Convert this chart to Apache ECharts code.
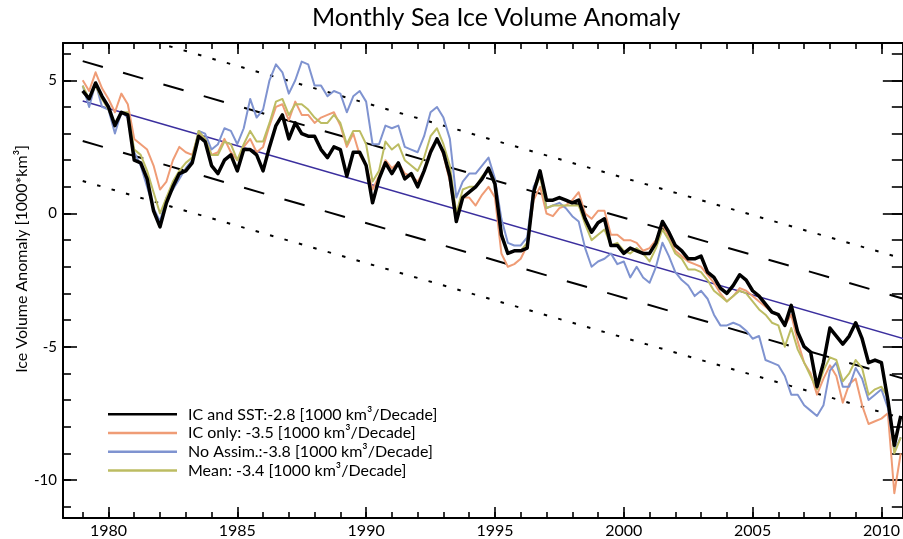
<!DOCTYPE html>
<html><head><meta charset="utf-8">
<script src="https://cdn.jsdelivr.net/npm/echarts@6/dist/echarts.min.js"></script>
<style>html,body{margin:0;padding:0;background:#fff}#c{width:903px;height:539px}</style>
</head><body><div id="c"></div>
<script>
// ---- data (quarterly samples) ----
const startYear = 1979, stepYears = 0.25;
const icAndSst = [
 4.6,4.3,4.9,4.4, 4.0,3.3,3.8,3.7, 2.0,1.9,1.3,0.1, -0.5,0.4,1.0,1.5,
 1.6,1.9,2.9,2.7, 1.8,1.5,2.0,2.2, 1.6,2.4,2.4,2.2, 1.6,2.5,3.3,3.7,
 2.8,3.4,3.0,2.9, 2.9,2.4,2.1,2.5, 2.4,1.4,2.3,2.3, 1.8,0.4,1.3,1.9,
 1.5,1.9,1.3,1.5, 1.0,1.6,2.3,2.8, 2.3,1.4,-0.3,0.6, 0.8,1.0,1.3,1.7,
 1.1,-0.8,-1.5,-1.4, -1.4,-1.3,0.8,1.6, 0.5,0.5,0.6,0.5, 0.4,0.5,-0.2,-0.7,
 -0.35,-0.2,-1.2,-1.2, -1.5,-1.3,-1.4,-1.5, -1.5,-1.1,-0.3,-0.7, -1.2,-1.4,-1.7,-1.7,
 -1.6,-2.2,-2.4,-2.8, -3.0,-2.7,-2.3,-2.5, -2.9,-3.1,-3.4,-3.7, -3.8,-4.2,-3.45,-4.45,
 -5.0,-5.2,-6.5,-5.6, -4.3,-4.6,-4.9,-4.6, -4.1,-4.7,-5.6,-5.5, -5.6,-7.0,-8.7,-7.6
];
const icOnly = [
 5.0,4.6,5.3,4.7, 4.3,3.8,4.5,4.1, 2.8,2.6,2.4,1.8, 0.9,1.2,2.0,2.5,
 2.3,2.2,3.0,2.8, 2.2,2.3,2.8,2.3, 2.0,2.5,2.8,2.3, 2.5,3.3,4.0,4.1,
 3.5,4.2,3.7,3.7, 3.4,3.6,3.7,3.8, 3.3,2.5,3.0,2.2, 1.8,0.9,1.4,2.0,
 1.7,1.9,1.5,1.4, 1.2,1.6,2.4,2.8, 2.2,1.2,-0.3,0.6, 0.6,0.3,0.7,1.0,
 0.6,-1.5,-2.0,-1.9, -1.7,-1.2,0.5,1.0, 0.0,-0.1,0.2,0.3, 0.5,0.8,0.0,-0.2,
 0.1,0.1,-0.8,-0.8, -1.0,-1.0,-1.1,-1.4, -1.3,-1.0,-0.4,-0.9, -1.4,-1.6,-1.8,-1.9,
 -2.0,-2.3,-2.6,-3.0, -3.3,-3.1,-2.8,-2.9, -3.1,-3.3,-3.5,-3.7, -3.8,-4.2,-3.8,-4.8,
 -5.6,-6.0,-6.8,-6.2, -5.7,-6.1,-7.1,-6.4, -6.2,-7.2,-7.9,-7.8, -7.7,-7.5,-10.5,-9.0
];
const noAssim = [
 4.8,4.0,4.9,4.0, 3.9,3.0,3.8,3.6, 2.3,1.8,1.0,0.2, -0.3,0.6,0.9,1.3,
 1.7,2.0,3.1,3.0, 2.4,2.6,3.2,3.1, 2.6,3.2,4.3,3.6, 3.9,5.0,5.6,5.3,
 4.5,5.0,5.7,5.6, 4.8,4.8,4.4,4.6, 4.5,3.8,4.4,4.6, 4.2,2.6,2.6,3.3,
 3.2,3.3,2.5,2.4, 2.3,2.9,3.8,4.0, 3.6,2.8,0.6,1.2, 1.5,1.5,1.8,2.1,
 1.3,-0.2,-1.1,-1.2, -1.2,-0.9,1.0,1.5, 0.2,0.3,0.4,0.2, -0.1,-0.3,-1.3,-2.0,
 -1.8,-1.7,-1.5,-1.9, -1.8,-2.4,-2.0,-2.4, -2.6,-2.0,-1.1,-1.6, -2.2,-2.5,-2.7,-3.1,
 -2.9,-3.2,-3.8,-4.2, -4.2,-4.1,-4.2,-4.4, -4.7,-4.6,-5.5,-5.6, -5.7,-6.1,-6.8,-6.8,
 -7.2,-7.4,-7.6,-7.2, -5.9,-5.6,-6.5,-6.5, -5.8,-6.2,-7.0,-6.8, -6.6,-7.3,-8.9,-8.4
];
const meanSeries = [
 4.8,4.3,4.8,4.3, 3.9,3.4,3.8,3.8, 2.4,2.2,1.6,0.8, 0.0,0.6,1.2,1.6,
 1.9,2.1,3.1,2.8, 2.2,2.2,2.7,2.6, 2.0,2.6,3.1,2.7, 2.7,3.4,4.2,4.3,
 3.7,4.1,4.1,3.9, 3.6,3.4,3.4,3.7, 3.4,2.6,3.1,3.1, 2.6,1.2,1.6,2.7,
 2.4,2.6,2.0,1.8, 1.6,2.1,2.9,3.2, 2.6,1.8,0.0,0.9, 1.0,1.0,1.4,1.6,
 1.2,-0.7,-1.5,-1.4, -1.4,-1.1,0.8,1.4, 0.2,0.3,0.3,0.3, 0.3,0.3,-0.4,-1.0,
 -0.8,-0.6,-1.2,-1.1, -1.4,-1.5,-1.3,-1.5, -1.8,-1.3,-0.6,-1.0, -1.5,-1.7,-2.1,-2.1,
 -2.2,-2.5,-2.9,-3.1, -3.3,-3.1,-2.9,-3.0, -3.3,-3.6,-3.8,-4.1, -4.2,-5.0,-4.3,-5.1,
 -5.6,-6.1,-6.6,-5.9, -5.4,-5.5,-6.3,-6.0, -5.5,-5.8,-6.8,-6.6, -6.5,-6.9,-9.0,-8.4
];
// trend of "IC and SST" with +-1 and +-2 sigma bands
const trendStartYear = 1979, trendEndYear = 2010.92;
const trendValueAtStart = 4.22, trendPerDecade = -2.8, trendSigma = 1.5;
// axis ticks
const xMajorTicks = [1980,1985,1990,1995,2000,2005,2010];
const xMinorTicks = [1979,1980,1981,1982,1983,1984,1985,1986,1987,1988,1989,1990,1991,1992,1993,1994,1995,1996,1997,1998,1999,2000,2001,2002,2003,2004,2005,2006,2007,2008,2009,2010];
const yMajorTicks = [-10,-5,0,5];
const yMinorTicks = [-11,-10,-9,-8,-7,-6,-5,-4,-3,-2,-1,0,1,2,3,4,5,6];
const seriesNames = [
  'IC and SST:-2.8 [1000 km³/Decade]',
  'IC only: -3.5 [1000 km³/Decade]',
  'No Assim.:-3.8 [1000 km³/Decade]',
  'Mean: -3.4 [1000 km³/Decade]'
];

// ---- build ----
const toPairs = arr => arr.map((v, i) => [startYear + i * stepYears, v]);
const trendAt = (yr, k) => trendValueAtStart + trendPerDecade / 10 * (yr - trendStartYear) + k * trendSigma;
const trendPairs = k => [[trendStartYear, trendAt(trendStartYear, k)], [trendEndYear, trendAt(trendEndYear, k)]];

const FONT = 'Lato';
const black = '#000';
const X_MIN = 1978.235, X_MAX = 2010.83, Y_MIN = -11.43, Y_MAX = 6.40;

function xAx(pos, len, ticks, labels, line) {
  return {
    type: 'value', position: pos, min: X_MIN, max: X_MAX,
    axisLine: { show: line, onZero: false, lineStyle: { color: black, width: 2 } },
    axisTick: { show: true, inside: true, length: len, customValues: ticks, lineStyle: { color: black, width: 1.6 } },
    axisLabel: labels ? { show: true, customValues: ticks, margin: 5, color: black, fontFamily: FONT, fontSize: 16,
      formatter: v => String(Math.round(v)) } : { show: false },
    splitLine: { show: false }
  };
}
function yAx(pos, len, ticks, labels, line) {
  return {
    type: 'value', position: pos, min: Y_MIN, max: Y_MAX,
    axisLine: { show: line, onZero: false, lineStyle: { color: black, width: 2 } },
    axisTick: { show: true, inside: true, length: len, customValues: ticks, lineStyle: { color: black, width: 1.6 } },
    axisLabel: labels ? { show: true, customValues: ticks, margin: 6, color: black, fontFamily: FONT, fontSize: 15,
      formatter: v => String(Math.round(v)) } : { show: false },
    splitLine: { show: false }
  };
}

const dataLine = (name, arr, color, width, z) => ({
  name, type: 'line', data: toPairs(arr), xAxisIndex: 0, yAxisIndex: 0,
  symbol: 'none', showSymbol: false, smooth: false, z,
  lineStyle: { color, width, join: 'round' }, itemStyle: { color }, emphasis: { disabled: true }
});
const trendLine = (k, type, width, color, z) => ({
  type: 'line', data: trendPairs(k), xAxisIndex: 0, yAxisIndex: 0, symbol: 'none', silent: true, z,
  lineStyle: { color, width, type }, emphasis: { disabled: true }
});

const chart = echarts.init(document.getElementById('c'), null, { renderer: 'canvas' });
chart.setOption({
  animation: false,
  backgroundColor: '#fff',
  title: {
    text: 'Monthly Sea Ice Volume Anomaly', left: 312, top: 5, padding: 0,
    textStyle: { fontFamily: FONT, fontSize: 25, fontWeight: 'normal', color: black }
  },
  grid: { left: 63, top: 43, width: 842, height: 476, containLabel: false },
  xAxis: [
    xAx('bottom', 11, xMajorTicks, true, true),
    xAx('bottom', 6, xMinorTicks, false, false),
    xAx('top', 11, xMajorTicks, false, true),
    xAx('top', 6, xMinorTicks, false, false)
  ],
  yAxis: [
    yAx('left', 14, yMajorTicks, true, true),
    yAx('left', 8, yMinorTicks, false, false),
    yAx('right', 20, yMajorTicks, false, true),
    yAx('right', 11, yMinorTicks, false, false)
  ],
  legend: {
    data: seriesNames, orient: 'vertical', left: 108, top: 406, padding: 0,
    icon: 'rect', itemWidth: 69, itemHeight: 2.5, itemGap: 2,
    selectedMode: false,
    textStyle: { fontFamily: FONT, fontSize: 16, color: black, lineHeight: 16.7, padding: [0, 0, 0, 6] }
  },
  graphic: [{
    type: 'text', x: 22, y: 259, rotation: Math.PI / 2,
    style: { text: 'Ice Volume Anomaly [1000*km³]', fontFamily: FONT, fontSize: 16, fill: black,
      align: 'center', verticalAlign: 'middle' }
  }],
  series: [
    trendLine(2, [3.5, 11.5], 2, black, 1),
    trendLine(1, [21, 21], 2, black, 1),
    trendLine(-1, [21, 21], 2, black, 1),
    trendLine(-2, [3.5, 11.5], 2, black, 1),
    trendLine(0, 'solid', 1.5, '#3b2f9e', 2),
    dataLine(seriesNames[1], icOnly, '#ef9c76', 2, 3),
    dataLine(seriesNames[2], noAssim, '#7f93d0', 2, 3),
    dataLine(seriesNames[3], meanSeries, '#bcbc62', 2, 4),
    dataLine(seriesNames[0], icAndSst, '#000000', 3.5, 5)
  ]
});
</script>
</body></html>
